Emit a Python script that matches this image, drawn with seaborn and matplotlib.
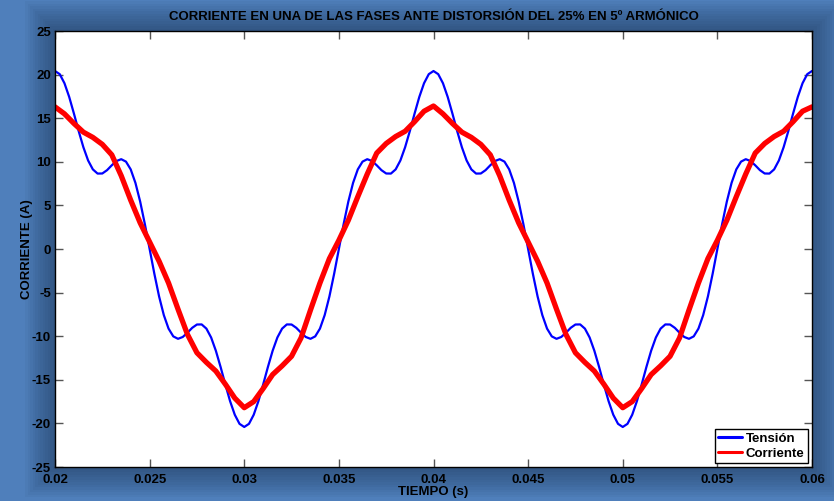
import numpy as np
import pandas as pd
import matplotlib
matplotlib.use("Agg")
import matplotlib.pyplot as plt
from matplotlib.patches import Rectangle
from matplotlib.lines import Line2D
from matplotlib.ticker import FormatStrFormatter
import seaborn as sns

# ---------------- data ----------------
title = "CORRIENTE EN UNA DE LAS FASES ANTE DISTORSIÓN DEL 25% EN 5º ARMÓNICO"
xlabel = "TIEMPO (s)"
ylabel = "CORRIENTE (A)"
series_names = ["Tensión", "Corriente"]

t_start, t_end = 0.02, 0.06

tension = [
    20.41, 20.05, 19.01, 17.44, 15.53, 13.53, 11.67, 10.15, 9.13, 8.65, 8.66, 9.04, 9.60, 10.09, 10.30, 10.02, 9.13, 7.58, 5.44, 2.84, 0.00,
    -2.84, -5.44, -7.58, -9.13, -10.02, -10.30, -10.09, -9.60, -9.04, -8.66, -8.65, -9.13, -10.15, -11.67, -13.53, -15.53, -17.44, -19.01, -20.05, -20.41,
    -20.05, -19.01, -17.44, -15.53, -13.53, -11.67, -10.15, -9.13, -8.65, -8.66, -9.04, -9.60, -10.09, -10.30, -10.02, -9.13, -7.58, -5.44, -2.84, 0.00,
    2.84, 5.44, 7.58, 9.13, 10.02, 10.30, 10.09, 9.60, 9.04, 8.66, 8.65, 9.13, 10.15, 11.67, 13.53, 15.53, 17.44, 19.01, 20.05, 20.41,
    20.05, 19.01, 17.44, 15.53, 13.53, 11.67, 10.15, 9.13, 8.65, 8.66, 9.04, 9.60, 10.09, 10.30, 10.02, 9.13, 7.58, 5.44, 2.84, 0.00,
    -2.84, -5.44, -7.58, -9.13, -10.02, -10.30, -10.09, -9.60, -9.04, -8.66, -8.65, -9.13, -10.15, -11.67, -13.53, -15.53, -17.44, -19.01, -20.05, -20.41,
    -20.05, -19.01, -17.44, -15.53, -13.53, -11.67, -10.15, -9.13, -8.65, -8.66, -9.04, -9.60, -10.09, -10.30, -10.02, -9.13, -7.58, -5.44, -2.84, 0.00,
    2.84, 5.44, 7.58, 9.13, 10.02, 10.30, 10.09, 9.60, 9.04, 8.66, 8.65, 9.13, 10.15, 11.67, 13.53, 15.53, 17.44, 19.01, 20.05, 20.41,
]

corriente = [
    16.3, 15.5, 14.4, 13.4, 12.8, 12.0, 10.8, 8.4, 5.6, 3.0, 0.8,
    -1.4, -3.9, -6.9, -9.8, -11.9, -13.0, -14.0, -15.5, -17.1, -18.2,
    -17.5, -16.0, -14.4, -13.4, -12.3, -10.2, -7.0, -3.9, -1.1, 1.0,
    3.3, 6.0, 8.6, 11.0, 12.1, 12.9, 13.5, 14.6, 15.8, 16.4,
    15.5, 14.4, 13.4, 12.8, 12.0, 10.8, 8.4, 5.6, 3.0, 0.8,
    -1.4, -3.9, -6.9, -9.8, -11.9, -13.0, -14.0, -15.5, -17.1, -18.2,
    -17.5, -16.0, -14.4, -13.4, -12.3, -10.2, -7.0, -3.9, -1.1, 1.0,
    3.3, 6.0, 8.6, 11.0, 12.1, 12.9, 13.5, 14.6, 15.8, 16.3,
]

xticks = [0.02, 0.025, 0.03, 0.035, 0.04, 0.045, 0.05, 0.055, 0.06]
yticks = [-25, -20, -15, -10, -5, 0, 5, 10, 15, 20, 25]

# ---------------- build table ----------------
t_v = np.linspace(t_start, t_end, len(tension))
t_i = np.linspace(t_start, t_end, len(corriente))
df = pd.concat([
    pd.DataFrame({"t": t_v, "v": tension, "serie": series_names[0]}),
    pd.DataFrame({"t": t_i, "v": corriente, "serie": series_names[1]}),
], ignore_index=True)

# ---------------- style ----------------
sns.set_style("ticks")
plt.rcParams["font.family"] = ["Liberation Sans", "DejaVu Sans"]
plt.rcParams["font.weight"] = "bold"
plt.rcParams["axes.unicode_minus"] = False
plt.rcParams["text.color"] = "black"
plt.rcParams["axes.labelcolor"] = "black"

W, H = 834, 501
fig = plt.figure(figsize=(W / 100, H / 100), dpi=100)
bg = "#4f7fbb"
fig.patch.set_facecolor(bg)

L, R, T, B = 55, 812, 31, 467
ax_rect = [L / W, 1 - B / H, (R - L) / W, (B - T) / H]

# soft dark shadow/glow around the axes (behind the axes)
for i in range(12, 0, -1):
    pad = i * 2.5
    fig.patches.append(Rectangle(((L - pad) / W, 1 - (B + pad) / H),
                                 (R - L + 2 * pad) / W, (B - T + 2 * pad) / H,
                                 transform=fig.transFigure, facecolor="#0d1f3a",
                                 edgecolor="none", alpha=0.04, zorder=-10))

ax = fig.add_axes(ax_rect)
ax.set_zorder(5)
ax.set_facecolor("white")

sns.lineplot(data=df, x="t", y="v", hue="serie",
             palette={series_names[0]: "#0000ff", series_names[1]: "#ff0000"},
             ax=ax, sort=False, estimator=None, legend=False)
lines = ax.get_lines()
lines[0].set_linewidth(1.6)
lines[1].set_linewidth(3.8)

ax.set_xlim(t_start, t_end)
ax.set_ylim(-25, 25)
ax.set_xticks(xticks)
ax.set_yticks(yticks)
ax.xaxis.set_major_formatter(FormatStrFormatter("%g"))
ax.tick_params(direction="in", length=6, width=1, colors="#555555",
               labelcolor="black", labelsize=9.5, top=True, right=True, pad=3)
ax.tick_params(axis="x", pad=5)
for lab in ax.get_xticklabels() + ax.get_yticklabels():
    lab.set_fontweight("bold")
for s in ax.spines.values():
    s.set_visible(True)
    s.set_color("black")
    s.set_linewidth(1.0)

ax.set_title(title, fontsize=9.5, fontweight="bold", pad=8, color="black")
ax.set_xlabel(xlabel, fontsize=9.5, fontweight="bold", labelpad=0, color="black")
ax.set_ylabel(ylabel, fontsize=9.5, fontweight="bold", labelpad=-1, color="black")

handles = [Line2D([], [], color="#0000ff", lw=2.2),
           Line2D([], [], color="#ff0000", lw=2.2)]
leg = ax.legend(handles, series_names, loc="lower right", fancybox=False,
                frameon=True, edgecolor="black", framealpha=1,
                prop={"weight": "bold", "size": 9.5}, handlelength=1.8,
                handletextpad=0.3, borderpad=0.25, labelspacing=0.2,
                borderaxespad=0.3)
leg.get_frame().set_linewidth(1.0)
for txt in leg.get_texts():
    txt.set_color("black")

fig.savefig("out.png", dpi=100, facecolor=fig.get_facecolor())
